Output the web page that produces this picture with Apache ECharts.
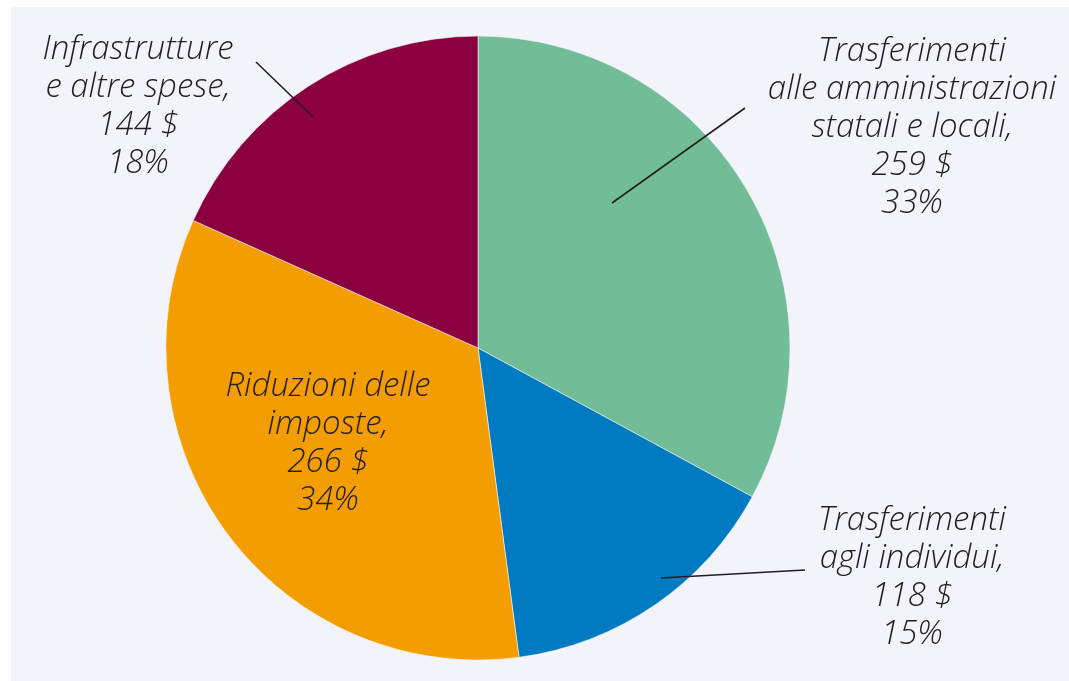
<!DOCTYPE html>
<html>
<head>
<meta charset="utf-8">
<script src="https://cdn.jsdelivr.net/npm/echarts@6/dist/echarts.min.js"></script>
<style>
  html, body { margin: 0; padding: 0; background: #fff; }
  #chart { width: 1069px; height: 681px; }
</style>
</head>
<body>
<div id="chart"></div>
<script>
// spending categories, clockwise from 12 o'clock
const categories = [
  'Trasferimenti\nalle amministrazioni\nstatali e locali,',
  'Trasferimenti\nagli individui,',
  'Riduzioni delle\nimposte,',
  'Infrastrutture\ne altre spese,'
];
const values = [259, 118, 266, 144];
const colors = ['#70bd98', '#007bc1', '#f39d00', '#8b003f'];

// where each label sits and how its leader line runs
const labelPos = [
  { x: 912, y: 128, line: [[612, 203], [745, 108]] },
  { x: 912, y: 578, line: [[661, 578], [805, 570]] },
  { x: 328, y: 444, line: null },
  { x: 138, y: 107, line: [[313, 117], [256, 62]] }
];

const chart = echarts.init(document.getElementById('chart'));

// leader lines sit on top of the slices, so draw them as graphics
const leaders = labelPos.filter((p) => p.line).map((p) => ({
  type: 'polyline',
  z: 100,
  shape: { points: p.line },
  style: { stroke: '#231f20', lineWidth: 1.6, fill: null }
}));

chart.setOption({
  backgroundColor: '#fff',
  animation: false,
  graphic: [{
    type: 'rect',
    z: -10,
    shape: { x: 11, y: 7, width: 1069, height: 681 },
    style: { fill: '#f3f4f9' }
  }].concat(leaders),
  series: [{
    type: 'pie',
    center: [478, 348],
    radius: 312,
    startAngle: 90,
    clockwise: true,
    data: categories.map((name, i) => ({
      name,
      value: values[i],
      itemStyle: { color: colors[i] }
    })),
    itemStyle: { borderColor: '#f3f4f9', borderWidth: 0.6 },
    label: {
      show: true,
      color: '#231f20',
      fontFamily: 'Open Sans',
      fontStyle: 'italic',
      fontWeight: 300,
      fontSize: 33,
      lineHeight: 38,
      align: 'center',
      overflow: 'none',
      width: 400,
      formatter: (p) => p.name + '\n' + p.value + ' $\n' + Math.round(p.percent) + '%'
    },
    labelLine: { show: false },
    labelLayout: (params) => {
      const pos = labelPos[params.dataIndex];
      return { x: pos.x, y: pos.y, align: 'center', verticalAlign: 'middle' };
    },
    emphasis: { disabled: true }
  }]
});
</script>
</body>
</html>
